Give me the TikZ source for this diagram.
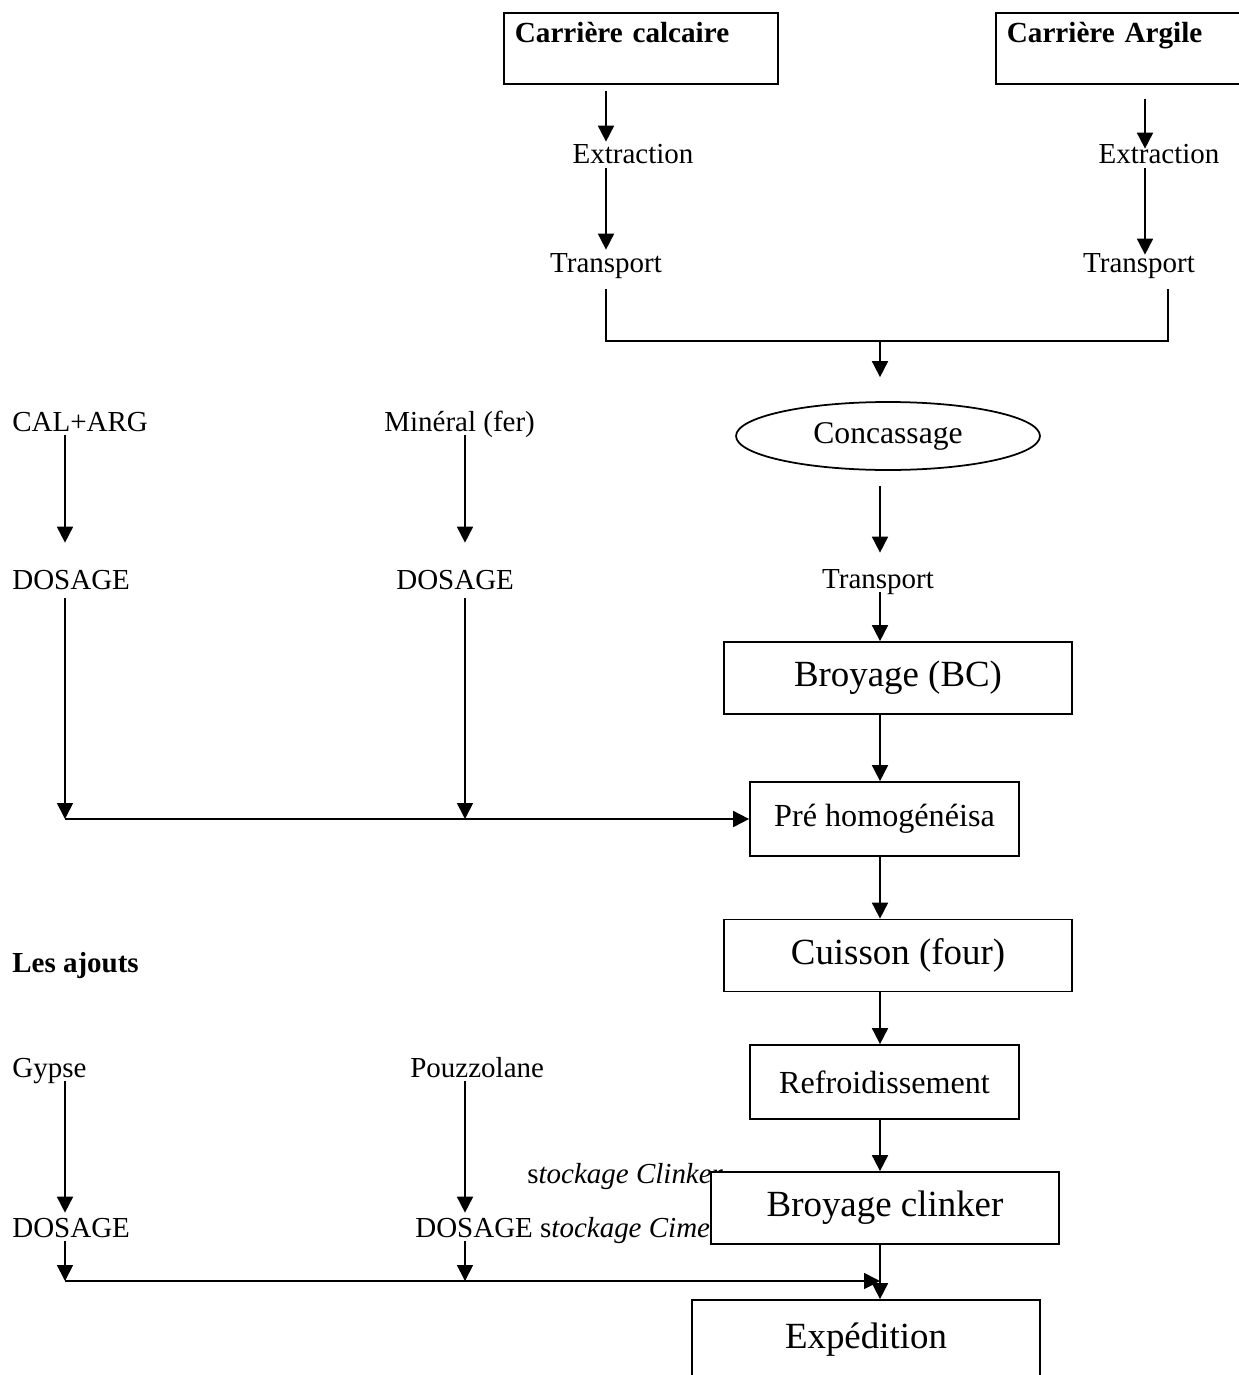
\documentclass[tikz,border=0pt]{standalone}
\usepackage{fontspec}
\setmainfont{Liberation Serif}
\usetikzlibrary{shapes.geometric,arrows.meta,calc}

\begin{document}
\begin{tikzpicture}[
  x=0.02cm, y=-0.02cm,
  lbl/.style={inner sep=0pt, text height=0.3cm, text depth=0.08cm, font=\fontsize{16.5}{19}\selectfont},
  quarry/.style={draw, line width=1pt, anchor=north west, inner xsep=0.22cm, inner ysep=0pt,
                 text width=5.04cm, align=left, text height=0.6cm, text depth=0.82cm,
                 font=\bfseries\fontsize{16.6}{19}\selectfont},
  bigbox/.style={draw, line width=1pt, fill=white, minimum width=6.96cm, minimum height=1.44cm,
                 inner sep=0pt, font=\fontsize{21}{25}\selectfont},
  midbox/.style={draw, line width=1pt, fill=white, minimum width=5.38cm, minimum height=1.48cm,
                 inner sep=0pt, font=\fontsize{18.3}{22}\selectfont},
  oval/.style={draw, ellipse, line width=1pt, minimum width=6.08cm, minimum height=1.36cm,
               inner sep=0pt, font=\fontsize{18}{22}\selectfont},
  arr/.style={-{Triangle[length=0.32cm, width=0.32cm]}, line width=1pt},
  wire/.style={line width=1pt}
]
\clip (0,0) rectangle (1239,1375);

% columns of the vertical flows
\coordinate (colL) at (606,0);
\coordinate (colR) at (1145,0);
\coordinate (colM) at (880,0);
\coordinate (colA) at (65,0);
\coordinate (colB) at (465,0);
\coordinate (jn) at (880,341);
\coordinate (jA) at (65,819);
\coordinate (jB) at (465,819);
\coordinate (jC) at (65,1281);
\coordinate (jD) at (465,1281);
\coordinate (jE) at (880,1281);

% quarries
\node[quarry] (cc) at (503,12) {Carrière calcaire};
\node[quarry] (ca) at (995,12) {Carrière Argile};
\node[lbl, anchor=base] (ext1) at (633,164) {Extraction};
\node[lbl, anchor=base] (tr1) at (606,272) {Transport};
\node[lbl, anchor=base] (ext2) at (1159,164) {Extraction};
\node[lbl, anchor=base] (tr2) at (1139,272) {Transport};

% main line
\node[oval] (conc) at (888,436) {Concassage};
\node[lbl, anchor=base] (tr3) at (878,588) {Transport};
\node[bigbox] (bc) at (898,678) {Broyage (BC)};
\node[midbox] (pre) at (884.5,819) {Pré homogénéisa};
\node[bigbox] (cuis) at (898,955.5) {Cuisson (four)};
\node[midbox] (refr) at (884.5,1082) {Refroidissement};

% raw materials and additions
\node[lbl, anchor=base west] (cal) at (12,431) {CAL+ARG};
\node[lbl, anchor=base west] (mine) at (384,431) {Minéral (fer)};
\node[lbl, anchor=base west] (dos1) at (12,589) {DOSAGE};
\node[lbl, anchor=base west] (dos2) at (396,589) {DOSAGE};
\node[lbl, anchor=base west, font=\bfseries\fontsize{16.5}{19}\selectfont] (ajouts) at (12,972) {Les ajouts};
\node[lbl, anchor=base west] (gyp) at (12,1077) {Gypse};
\node[lbl, anchor=base west] (pouz) at (410,1077) {Pouzzolane};
\node[lbl, anchor=base west] (stk) at (527,1183) {s\textit{tockage Clinker}};
\node[lbl, anchor=base west] (dos3) at (12,1237) {DOSAGE};
\node[lbl, anchor=base west] (dos4) at (415,1237) {DOSAGE s\textit{tockage Cime}};

\node[bigbox] (bcl) at (885,1208) {Broyage clinker};
\node[bigbox, minimum height=1.6cm] (exp) at (866,1340) {Expédition};

% arrows
\draw[arr, shorten <=0.12cm, shorten >=0.14cm] (cc.south -| colL) -- (ext1.north -| colL);
\draw[arr, shorten >=0.14cm] (ext1.south -| colL) -- (tr1.north);
\draw[arr, shorten <=0.28cm] (ca.south -| colR) -- (ext2.north -| colR);
\draw[arr, shorten >=0.04cm] (ext2.south -| colR) -- (tr2.north -| colR);
\draw[wire] ($(tr1.south)+(0,13)$) |- (jn) -| ($(tr2.south)+(29,13)$);
\draw[arr, shorten >=0.48cm] (jn) -- (conc.north -| jn);
\draw[arr, shorten <=0.3cm, shorten >=0.4cm] (conc.south -| colM) -- (tr3.north -| colM);
\draw[arr] (tr3.south -| colM) -- (bc.north -| colM);
\draw[arr] (bc.south -| colM) -- (pre.north -| colM);
\draw[arr] (pre.south -| colM) -- (cuis.north -| colM);
\draw[arr] (cuis.south -| colM) -- (refr.north -| colM);
\draw[arr] (refr.south -| colM) -- (bcl.north -| colM);
\draw[arr] (bcl.south -| colM) -- (exp.north -| colM);

\draw[arr, shorten >=0.62cm] (cal.south -| colA) -- (dos1.north -| colA);
\draw[arr, shorten <=0.1cm] (dos1.south -| colA) -- (jA);
\draw[arr, shorten >=0.62cm] (mine.south -| colB) -- (dos2.north -| colB);
\draw[arr, shorten <=0.1cm] (dos2.south -| colB) -- (jB);
\draw[arr] (jA) -- (pre.west);

\draw[arr, shorten >=0.18cm] (gyp.south -| colA) -- (dos3.north -| colA);
\draw[arr] (dos3.south -| colA) -- (jC);
\draw[arr, shorten >=0.18cm] (pouz.south -| colB) -- (dos4.north -| colB);
\draw[arr] (dos4.south -| colB) -- (jD);
\draw[arr] (jC) -- (jE);
\end{tikzpicture}
\end{document}
